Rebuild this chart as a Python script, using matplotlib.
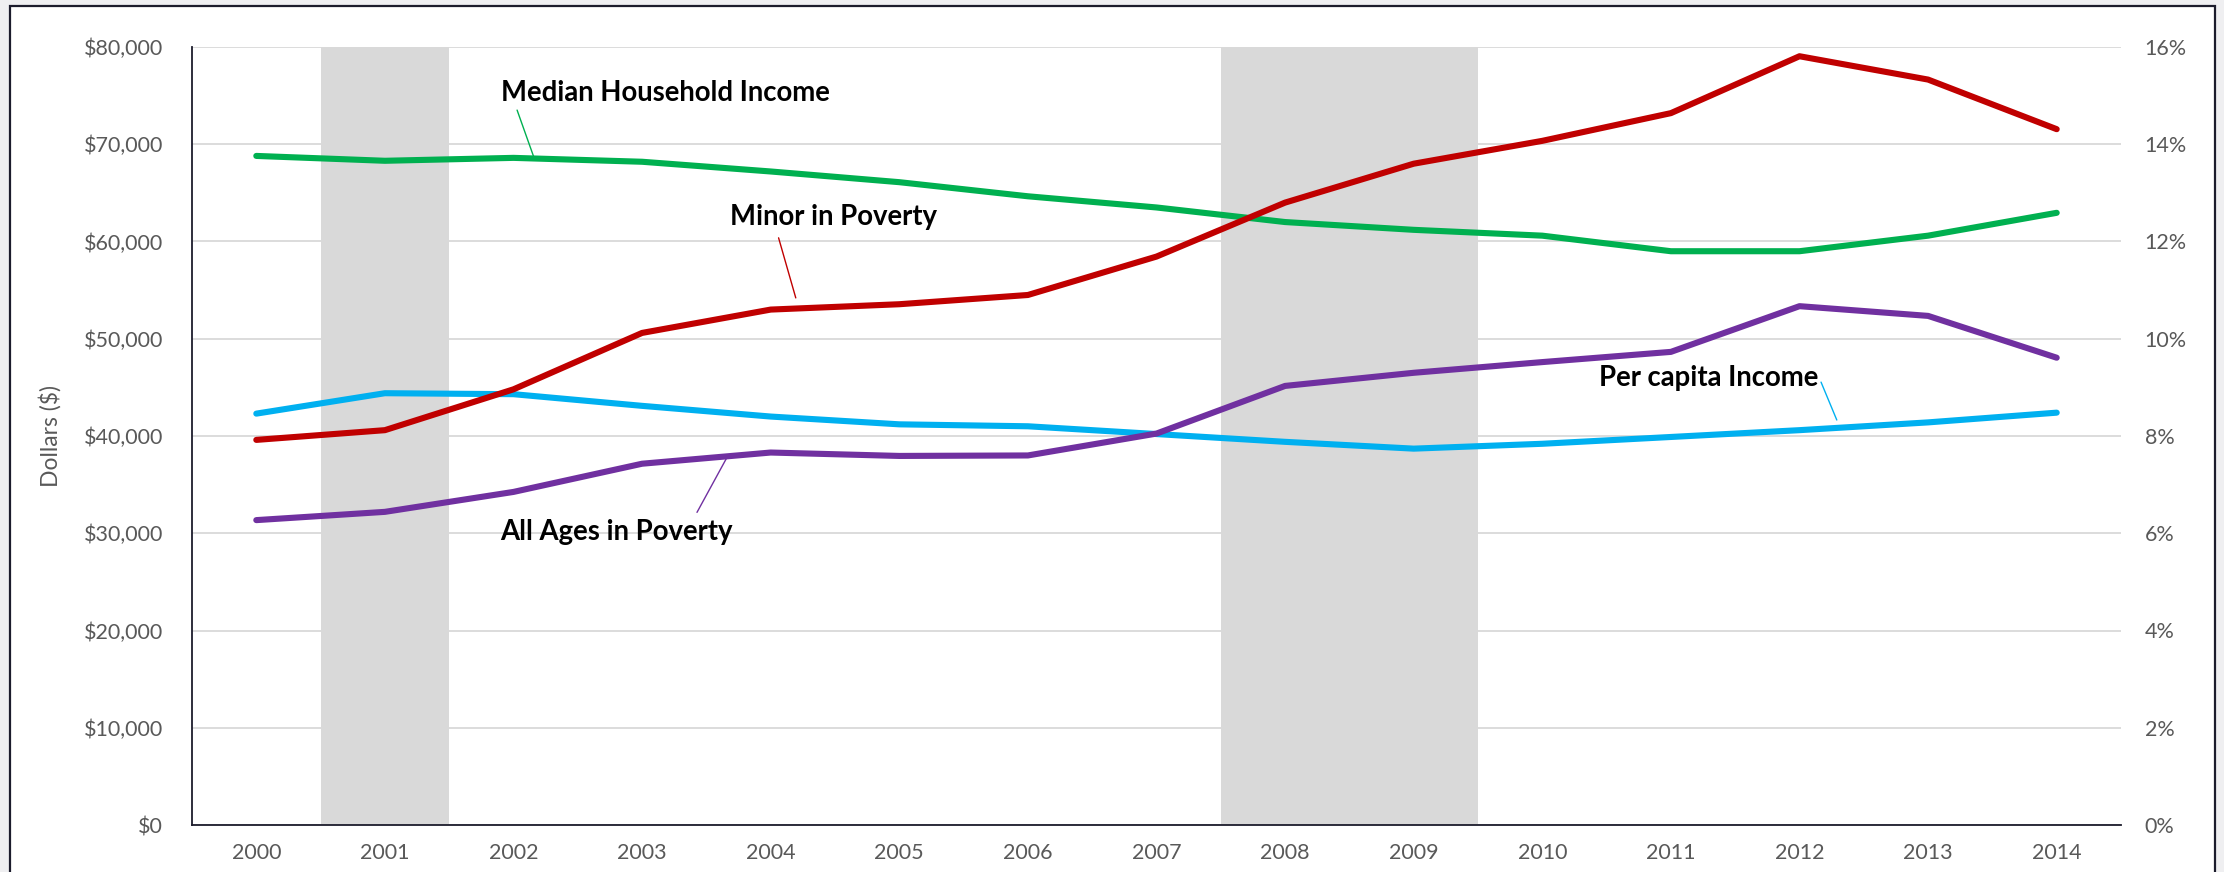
import matplotlib
matplotlib.use("Agg")
import matplotlib.pyplot as plt
from matplotlib.patches import Rectangle
from matplotlib.ticker import FuncFormatter, MultipleLocator

years = list(range(2000, 2015))
median_income = [68800, 68300, 68600, 68200, 67200, 66100, 64650, 63500,
                 62000, 61200, 60600, 59000, 59000, 60600, 62950]
per_capita_income = [42300, 44400, 44300, 43100, 42000, 41200, 41000, 40200,
                     39400, 38700, 39200, 39900, 40600, 41400, 42400]
minor_poverty = [7.92, 8.12, 8.96, 10.12, 10.6, 10.71, 10.9, 11.69,
                 12.8, 13.6, 14.07, 14.64, 15.81, 15.33, 14.31]
all_poverty = [6.27, 6.44, 6.85, 7.43, 7.66, 7.59, 7.6, 8.05,
               9.03, 9.3, 9.52, 9.73, 10.67, 10.47, 9.61]
recessions = [(2001, 2001), (2008, 2009)]

GREEN = "#00B050"
BLUE = "#00B0F0"
RED = "#C00000"
PURPLE = "#7030A0"
TICK = "#595959"
DARK = "#1c1c2c"

plt.rcParams["font.family"] = ["Lato", "DejaVu Sans"]

fig = plt.figure(figsize=(22.24, 8.72), dpi=100, facecolor="#efeff1")
# outer chart frame (bottom edge is cut off in the original)
fig.patches.append(Rectangle((10 / 2224, -0.05), 2205 / 2224, 1.05 - 6 / 872,
                             transform=fig.transFigure, facecolor="white",
                             edgecolor=DARK, lw=1.6, zorder=-1))

ax = fig.add_axes([192 / 2224, 47 / 872, 1929 / 2224, 778 / 872])
ax.set_facecolor("none")
x = list(range(len(years)))

for start, end in recessions:
    ax.axvspan(years.index(start) - 0.5, years.index(end) + 0.5,
               color="#d9d9d9", lw=0, zorder=1)

ax.plot(x, median_income, color=GREEN, lw=4.4, solid_capstyle="round", zorder=3)
ax.plot(x, per_capita_income, color=BLUE, lw=4.4, solid_capstyle="round", zorder=3)

ax.set_xlim(-0.5, len(years) - 0.5)
ax.set_ylim(0, 80000)
ax.yaxis.set_major_locator(MultipleLocator(10000))
ax.yaxis.set_major_formatter(FuncFormatter(lambda v, p: "${:,.0f}".format(v)))
ax.set_xticks(x)
ax.set_xticklabels([str(y) for y in years])
ax.set_axisbelow(True)
ax.grid(axis="y", color="#d9d9d9", lw=1.3)
ax.tick_params(axis="both", length=0, labelsize=15.5, labelcolor=TICK)
ax.tick_params(axis="x", pad=13)
ax.tick_params(axis="y", pad=21)
for s in ["top", "right"]:
    ax.spines[s].set_visible(False)
for s in ["left", "bottom"]:
    ax.spines[s].set_color(DARK)
    ax.spines[s].set_linewidth(1.3)
ax.set_ylabel("Dollars ($)", fontsize=16.5, color=TICK)
ax.yaxis.set_label_coords(-0.0674, 0.5)

ax2 = ax.twinx()
ax2.plot(x, minor_poverty, color=RED, lw=4.4, solid_capstyle="round")
ax2.plot(x, all_poverty, color=PURPLE, lw=4.4, solid_capstyle="round")
ax2.set_ylim(0, 16)
ax2.yaxis.set_major_locator(MultipleLocator(2))
ax2.yaxis.set_major_formatter(FuncFormatter(lambda v, p: "{:.0f}%".format(v)))
ax2.tick_params(axis="y", length=0, labelsize=15.5, labelcolor=TICK, pad=17)
for s in ax2.spines.values():
    s.set_visible(False)

lab = dict(fontsize=19.8, fontweight="bold", color="black", va="center", ha="left")
ax.annotate("Median Household Income", xy=(2.156, 68750), xytext=(1.899, 75270),
            arrowprops=dict(arrowstyle="-", color=GREEN, lw=1, relpos=(0.046, 0),
                            shrinkA=1, shrinkB=0), **lab)
ax2.annotate("Minor in Poverty", xy=(4.195, 10.84), xytext=(3.681, 12.51),
             arrowprops=dict(arrowstyle="-", color=RED, lw=1, relpos=(0.225, 0),
                             shrinkA=4, shrinkB=0), **lab)
ax2.annotate("All Ages in Poverty", xy=(3.658, 7.55), xytext=(1.899, 6.03),
             arrowprops=dict(arrowstyle="-", color=PURPLE, lw=1, relpos=(0.83, 1),
                             shrinkA=3, shrinkB=0), **lab)
ax.annotate("Per capita Income", xy=(12.29, 41645), xytext=(10.44, 45964),
            arrowprops=dict(arrowstyle="-", color=BLUE, lw=1, relpos=(0.995, 0.7),
                            shrinkA=0, shrinkB=0), **lab)

fig.savefig("out.png", dpi=100, facecolor=fig.get_facecolor())
